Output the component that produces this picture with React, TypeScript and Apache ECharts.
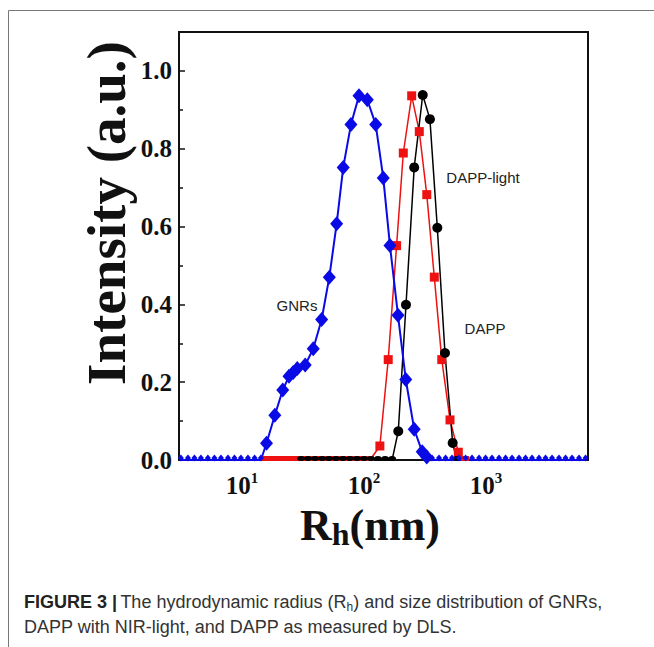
import React, { useEffect, useRef } from 'react';
import * as echarts from 'echarts';

// ---- data (x: Rh in nm, y: intensity a.u.) ----
const gnrX = [15.9, 18.6, 21.6, 24.3, 26.3, 28.4, 33.0, 38.4, 45.0, 52.0, 59.7, 67.6, 78.2, 91.0, 106.5, 124.8, 143.9, 163.3, 190, 220, 258, 300, 327];
const gnrY = [0.043, 0.115, 0.18, 0.215, 0.225, 0.235, 0.244, 0.286, 0.361, 0.47, 0.607, 0.752, 0.862, 0.936, 0.926, 0.862, 0.725, 0.551, 0.372, 0.207, 0.079, 0.021, 0.008];
const gnrZeroLeft = [3.16, 3.61, 4.08, 4.61, 5.26, 5.95, 6.73, 7.68, 8.68, 9.81, 11.2, 12.7, 14.3];
const gnrZeroRight = [361, 412, 466, 526, 601, 680, 768, 877, 991, 1119, 1279, 1446, 1634, 1864, 2107, 2382, 2718, 3074, 3475, 3963, 4482, 5068, 5785, 6541];

const dappX = [135, 158, 185, 210, 246, 284, 327, 377, 434, 507, 593];
const dappY = [0.036, 0.258, 0.551, 0.789, 0.936, 0.844, 0.682, 0.47, 0.258, 0.103, 0.02];
const dappZeroLeft = [15.5, 17.6, 20.1, 22.9, 26.2, 29.9, 34.1, 38.9, 44.4, 50.7, 57.8, 66.1, 75.3, 86.0, 98.1, 112];
const dappZeroRight = [673];

const lightX = [191, 221, 258, 303, 347, 399, 461, 533];
const lightY = [0.074, 0.399, 0.752, 0.938, 0.876, 0.597, 0.275, 0.044];
const lightZeroLeft = [30.5, 34.8, 39.7, 45.3, 51.6, 58.9, 67.2, 76.7, 87.6, 100, 114, 130, 149, 170];
const lightZeroRight = [575];

const yTicks = [0, 0.2, 0.4, 0.6, 0.8, 1.0];
const xDecades = [1, 2, 3];

const SERIF = '"Liberation Serif", "Times New Roman", serif';
const SANS = '"Liberation Sans", Arial, Helvetica, sans-serif';

function buildData(
  zl: number[], xs: number[], ys: number[], zr: number[],
  zeroSize: number | number[], zeroOffset: number[]
) {
  const z = (x: number) => ({ value: [x, 0], symbolSize: zeroSize, symbolOffset: zeroOffset });
  return [
    ...zl.map(z),
    ...xs.map((x, i) => [x, ys[i]]),
    ...zr.map(z),
  ];
}

export default function App() {
  const ref = useRef<HTMLDivElement>(null);
  useEffect(() => {
    if (!ref.current) return;
    const chart = echarts.init(ref.current, undefined, { renderer: 'svg' });
    const option: any = {
      animation: false,
      backgroundColor: '#ffffff',
      grid: {
        left: 179, right: 66, top: 32, bottom: 187,
        show: true, borderColor: '#111', borderWidth: 2, backgroundColor: 'transparent',
      },
      xAxis: {
        type: 'log',
        logBase: 10,
        min: 3.05,
        max: 6850,
        axisLine: { show: true, lineStyle: { color: '#111', width: 2 } },
        axisTick: { show: false },
        splitLine: { show: false },
        minorTick: { show: false },
        axisLabel: {
          margin: 10,
          showMinLabel: false,
          showMaxLabel: false,
          formatter: (v: number) => {
            const l = Math.log10(v);
            const e = Math.round(l);
            if (Math.abs(l - e) > 1e-6 || xDecades.indexOf(e) < 0) return '';
            return `{b|10}{s|${e}}`;
          },
          rich: {
            b: { fontSize: 25, fontWeight: 'bold', fontFamily: SERIF, color: '#111', lineHeight: 30 },
            s: { fontSize: 15, fontWeight: 'bold', fontFamily: SERIF, color: '#111', verticalAlign: 'top' },
          },
        },
      },
      yAxis: {
        type: 'value',
        min: 0,
        max: 1.1,
        interval: 0.2,
        axisLine: { show: true, lineStyle: { color: '#111', width: 2 } },
        axisTick: { show: true, inside: true, length: 6, lineStyle: { color: '#111', width: 1.5 } },
        minorTick: { show: true, splitNumber: 2, length: 4, lineStyle: { color: '#111', width: 1.5 } },
        splitLine: { show: false },
        axisLabel: {
          margin: 7,
          showMaxLabel: false,
          fontSize: 25,
          fontWeight: 'bold',
          fontFamily: SERIF,
          color: '#111',
          formatter: (v: number) => (yTicks.some((t) => Math.abs(t - v) < 1e-6) ? v.toFixed(1) : ''),
        },
      },
      series: [
        {
          name: 'DAPP',
          type: 'line',
          data: buildData(dappZeroLeft, dappX, dappY, dappZeroRight, [8, 5], [0, -1.5]),
          symbol: 'rect',
          symbolSize: 9,
          lineStyle: { color: '#ee1111', width: 1.5 },
          itemStyle: { color: '#ee1111' },
        },
        {
          name: 'DAPP-light',
          type: 'line',
          data: buildData(lightZeroLeft, lightX, lightY, lightZeroRight, [8, 5], [0, -1.5]),
          symbol: 'circle',
          symbolSize: 10,
          lineStyle: { color: '#000000', width: 1.5 },
          itemStyle: { color: '#000000' },
        },
        {
          name: 'GNRs',
          type: 'line',
          data: buildData(gnrZeroLeft, gnrX, gnrY, gnrZeroRight, [6, 7], [0, -2]),
          symbol: 'diamond',
          symbolSize: [13, 15],
          lineStyle: { color: '#0a0ae6', width: 2 },
          itemStyle: { color: '#0a0ae6' },
        },
      ],
      graphic: [
        // figure frame
        { type: 'line', shape: { x1: 8.5, y1: 10.5, x2: 654, y2: 10.5 }, style: { stroke: '#777', lineWidth: 1 } },
        { type: 'line', shape: { x1: 8.5, y1: 10.5, x2: 8.5, y2: 647 }, style: { stroke: '#777', lineWidth: 1 } },
        // curve labels
        { type: 'text', x: 297, y: 305, style: { text: 'GNRs', font: `15px ${SANS}`, fill: '#222', align: 'center', verticalAlign: 'middle' } },
        { type: 'text', x: 483, y: 177, style: { text: 'DAPP-light', font: `15px ${SANS}`, fill: '#222', align: 'center', verticalAlign: 'middle' } },
        { type: 'text', x: 485, y: 328, style: { text: 'DAPP', font: `15px ${SANS}`, fill: '#222', align: 'center', verticalAlign: 'middle' } },
        // y axis title
        {
          type: 'text', x: 106, y: 213, rotation: Math.PI / 2,
          style: { text: 'Intensity (a.u.)', font: `bold 55px ${SERIF}`, fill: '#111', align: 'center', verticalAlign: 'middle' },
        },
        // x axis title
        {
          type: 'text', x: 370, y: 525,
          style: {
            text: '{m|R}{sub|h}{m|(nm)}',
            align: 'center', verticalAlign: 'middle',
            rich: {
              m: { fontSize: 44, fontWeight: 'bold', fontFamily: SERIF, fill: '#111', lineHeight: 50 },
              sub: { fontSize: 32, fontWeight: 'bold', fontFamily: SERIF, fill: '#111', lineHeight: 22, verticalAlign: 'bottom' },
            },
          },
        },
        // caption
        {
          type: 'text', x: 24, y: 602,
          style: {
            text: '{b|FIGURE 3 |} {n|The hydrodynamic radius (R}{sub|h}{n|) and size distribution of GNRs,}',
            verticalAlign: 'middle', align: 'left',
            rich: {
              b: { fontSize: 18, fontWeight: 'bold', fontFamily: SANS, fill: '#222', lineHeight: 22 },
              n: { fontSize: 18, fontFamily: SANS, fill: '#333', lineHeight: 22 },
              sub: { fontSize: 12, fontFamily: SANS, fill: '#333', lineHeight: 14, verticalAlign: 'bottom' },
            },
          },
        },
        {
          type: 'text', x: 24, y: 627,
          style: { text: 'DAPP with NIR-light, and DAPP as measured by DLS.', font: `18px ${SANS}`, fill: '#333', align: 'left', verticalAlign: 'middle' },
        },
      ],
    };
    chart.setOption(option);
    return () => chart.dispose();
  }, []);
  return (
    <div
      ref={ref}
      style={{ position: 'absolute', left: 0, top: 0, width: 654, height: 647, background: '#fff' }}
    />
  );
}
